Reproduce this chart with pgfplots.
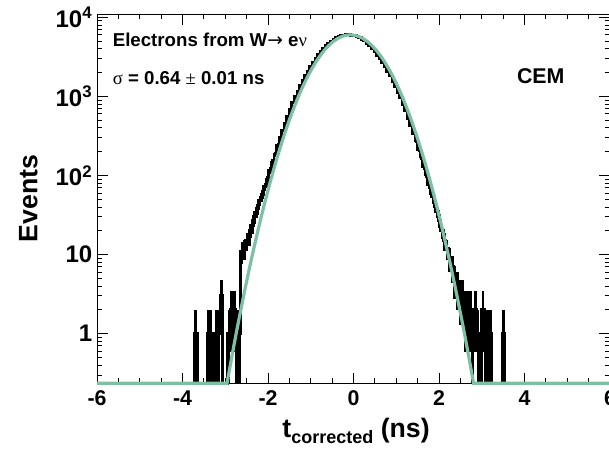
\documentclass[border=0pt]{standalone}
\usepackage{pgfplots}
\pgfplotsset{compat=1.18}
\usepackage{pgfplotstable}
\usepackage{fontspec}
\setmainfont{Liberation Sans}
\newfontfamily\symf{Liberation Serif}
\newfontfamily\arrf{DejaVu Sans}
\definecolor{fitgreen}{RGB}{125,192,163}

\pgfplotstableread{
x y ep em
-3.81 0.235 0 0
-3.75 0.235 0 0
-3.69 1 1 0.765
-3.63 0.235 0 0
-3.57 0.235 0 0
-3.51 0.235 0 0
-3.45 0.235 0 0
-3.39 1 1 0.765
-3.33 1 1 0.765
-3.27 0.235 0 0
-3.21 1 1 0.765
-3.15 1 1 0.765
-3.09 3 1.73 1.73
-3.03 0.235 0 0
-2.97 0.235 0 0
-2.91 1 1 0.765
-2.85 2 1.41 1.41
-2.79 2 1.41 1.41
-2.73 1 1 0.765
-2.67 1 1 0.765
-2.61 11 3.32 3.32
-2.55 12 3.46 3.46
-2.49 15 3.87 3.87
-2.43 17 4.12 4.12
-2.37 23 4.8 4.8
-2.31 30 5.48 5.48
-2.25 38 6.16 6.16
-2.19 48 6.93 6.93
-2.13 58 7.6 7.6
-2.07 72 8.5 8.5
-2.01 90 9.5 9.5
-1.95 116 10.8 10.8
-1.89 148 12.2 12.2
-1.83 185 13.6 13.6
-1.77 240 15.5 15.5
-1.71 300 17.3 17.3
-1.65 372 19.3 19.3
-1.59 458 21.4 21.4
-1.53 560 23.7 23.7
-1.47 690 26.3 26.3
-1.41 825 28.7 28.7
-1.35 985 31.4 31.4
-1.29 1160 34 34
-1.23 1365 37 37
-1.17 1580 40 40
-1.11 1840 43 43
-1.05 2090 46 46
-0.99 2410 49 49
-0.93 2680 52 52
-0.87 3050 55 55
-0.81 3340 58 58
-0.75 3720 61 61
-0.69 4010 63 63
-0.63 4400 66 66
-0.57 4660 68 68
-0.51 5000 71 71
-0.45 5230 72 72
-0.39 5510 74 74
-0.33 5660 75 75
-0.27 5850 76 76
-0.21 5930 77 77
-0.15 5990 77 77
-0.09 6010 78 78
-0.03 5920 77 77
0.03 5860 77 77
0.09 5650 75 75
0.15 5520 74 74
0.21 5230 72 72
0.27 5010 71 71
0.33 4650 68 68
0.39 4400 66 66
0.45 4010 63 63
0.51 3720 61 61
0.57 3330 58 58
0.63 3040 55 55
0.69 2670 52 52
0.75 2400 49 49
0.81 2070 45 45
0.87 1830 43 43
0.93 1545 39 39
0.99 1345 37 37
1.05 1115 33 33
1.11 955 30.9 30.9
1.17 780 27.9 27.9
1.23 655 25.6 25.6
1.29 525 22.9 22.9
1.35 433 20.8 20.8
1.41 340 18.4 18.4
1.47 277 16.6 16.6
1.53 213 14.6 14.6
1.59 171 13.1 13.1
1.65 129 11.4 11.4
1.71 103 10.1 10.1
1.77 77 8.8 8.8
1.83 59 7.7 7.7
1.89 45 6.7 6.7
1.95 35 5.92 5.92
2.01 27 5.2 5.2
2.07 20 4.47 4.47
2.13 15 3.87 3.87
2.19 12 3.46 3.46
2.25 9 3 3
2.31 7 2.65 2.65
2.37 5 2.24 2.24
2.43 4 2 2
2.49 3 1.73 1.73
2.55 3 1.73 1.73
2.61 2 1.41 1.41
2.67 2 1.41 1.41
2.73 2 1.41 1.41
2.79 1 1 0.765
2.85 2 1.41 1.41
2.91 1 1 0.765
2.97 0.235 0 0
3.03 2 1.41 1.41
3.09 1 1 0.765
3.15 1 1 0.765
3.21 1 1 0.765
3.27 0.235 0 0
3.33 0.235 0 0
3.39 0.235 0 0
3.45 0.235 0 0
3.51 1 1 0.765
3.57 0.235 0 0
3.63 0.235 0 0
}\hist

\pgfplotstableread{
x y
-6 0.235
-2.958 0.235
-2.925 0.297
-2.875 0.419
-2.825 0.588
-2.775 0.82
-2.725 1.14
-2.675 1.56
-2.625 2.14
-2.575 2.91
-2.525 3.94
-2.475 5.30
-2.425 7.09
-2.375 9.41
-2.325 12.4
-2.275 16.3
-2.225 21.3
-2.175 27.5
-2.125 35.5
-2.075 45.4
-2.025 57.8
-1.975 73
-1.925 92
-1.875 115
-1.825 143
-1.775 176
-1.725 216
-1.675 264
-1.625 320
-1.575 385
-1.525 461
-1.475 548
-1.425 649
-1.375 762
-1.325 891
-1.275 1035
-1.225 1194
-1.175 1370
-1.125 1562
-1.075 1770
-0.975 2232
-0.875 2747
-0.775 3299
-0.675 3866
-0.575 4422
-0.475 4935
-0.375 5376
-0.275 5714
-0.175 5927
-0.075 6000
0.025 5927
0.125 5714
0.225 5376
0.325 4935
0.425 4422
0.525 3866
0.625 3299
0.725 2747
0.825 2232
0.925 1770
0.975 1562
1.025 1370
1.075 1194
1.125 1035
1.175 891
1.225 762
1.275 649
1.325 548
1.375 461
1.425 385
1.475 320
1.525 264
1.575 216
1.625 176
1.675 143
1.725 115
1.775 92
1.825 73
1.875 57.8
1.925 45.4
1.975 35.5
2.025 27.5
2.075 21.3
2.125 16.3
2.175 12.4
2.225 9.41
2.275 7.09
2.325 5.30
2.375 3.94
2.425 2.91
2.475 2.14
2.525 1.56
2.575 1.14
2.625 0.82
2.675 0.588
2.725 0.419
2.775 0.297
2.808 0.235
6 0.235
}\fit

\begin{document}
\begin{tikzpicture}
\begin{axis}[
  scale only axis, width=384.75pt, height=277pt,
  ymode=log, xmin=-6, xmax=6, ymin=0.235, ymax=11000,
  clip=false,
  axis line style={line width=0.6pt},
  tick align=inside, tick pos=both,
  xtick={-6,-4,-2,0,2,4,6}, xticklabels={-6,-4,-2,0,2,4,6},
  minor x tick num=3,
  ytick={1,10,100,1000,10000},
  yticklabels={1,10,10\textsuperscript{2},10\textsuperscript{3},10\textsuperscript{4}},
  minor ytick={0.3,0.4,0.5,0.6,0.7,0.8,0.9,2,3,4,5,6,7,8,9,20,30,40,50,60,70,80,90,200,300,400,500,600,700,800,900,2000,3000,4000,5000,6000,7000,8000,9000},
  major tick length=8pt, minor tick length=4pt,
  every tick/.style={black, line width=0.6pt},
  xticklabel style={font=\fontsize{16}{16}\selectfont\bfseries, yshift=-2pt},
  yticklabel style={font=\fontsize{18}{18}\selectfont\bfseries},
  xlabel={t{\raisebox{-0.45ex}{\fontsize{13.5}{13.5}\selectfont corrected}} (ns)},
  xlabel style={font=\fontsize{20}{20}\selectfont\bfseries, at={(axis description cs:0.505,0)}, anchor=base, yshift=-40.5pt},
  ylabel={Events},
  ylabel style={font=\fontsize{20}{20}\selectfont\bfseries, at={(axis description cs:-0.134,0.5)}, anchor=center},
]
\addplot[black, line width=2.2pt, const plot mark mid, no markers,
  error bars/.cd, y dir=both, y explicit, error mark=none,
  error bar style={line width=2pt, black}]
  table[x=x, y=y, y error plus=ep, y error minus=em] {\hist};
\addplot[fitgreen, line width=2.4pt, no markers] table[x=x, y=y] {\fit};
\node[anchor=west, font=\fontsize{14}{14}\selectfont\bfseries] at (axis cs:-5.74,5160)
  {Electrons from W{\arrf\mdseries →} e{\symf\mdseries ν}};
\node[anchor=west, font=\fontsize{14}{14}\selectfont\bfseries] at (axis cs:-5.74,1706)
  {{\symf\mdseries σ} = 0.64 {\symf\mdseries ±} 0.01 ns};
\node[anchor=center, font=\fontsize{16}{16}\selectfont\bfseries] at (axis cs:4.38,1807) {CEM};
\end{axis}
\pgfresetboundingbox
\path[use as bounding box] ([xshift=-72.75pt,yshift=-48.5pt]current axis.south west) rectangle ([xshift=-0.75pt,yshift=10.5pt]current axis.north east);
\end{tikzpicture}
\end{document}
